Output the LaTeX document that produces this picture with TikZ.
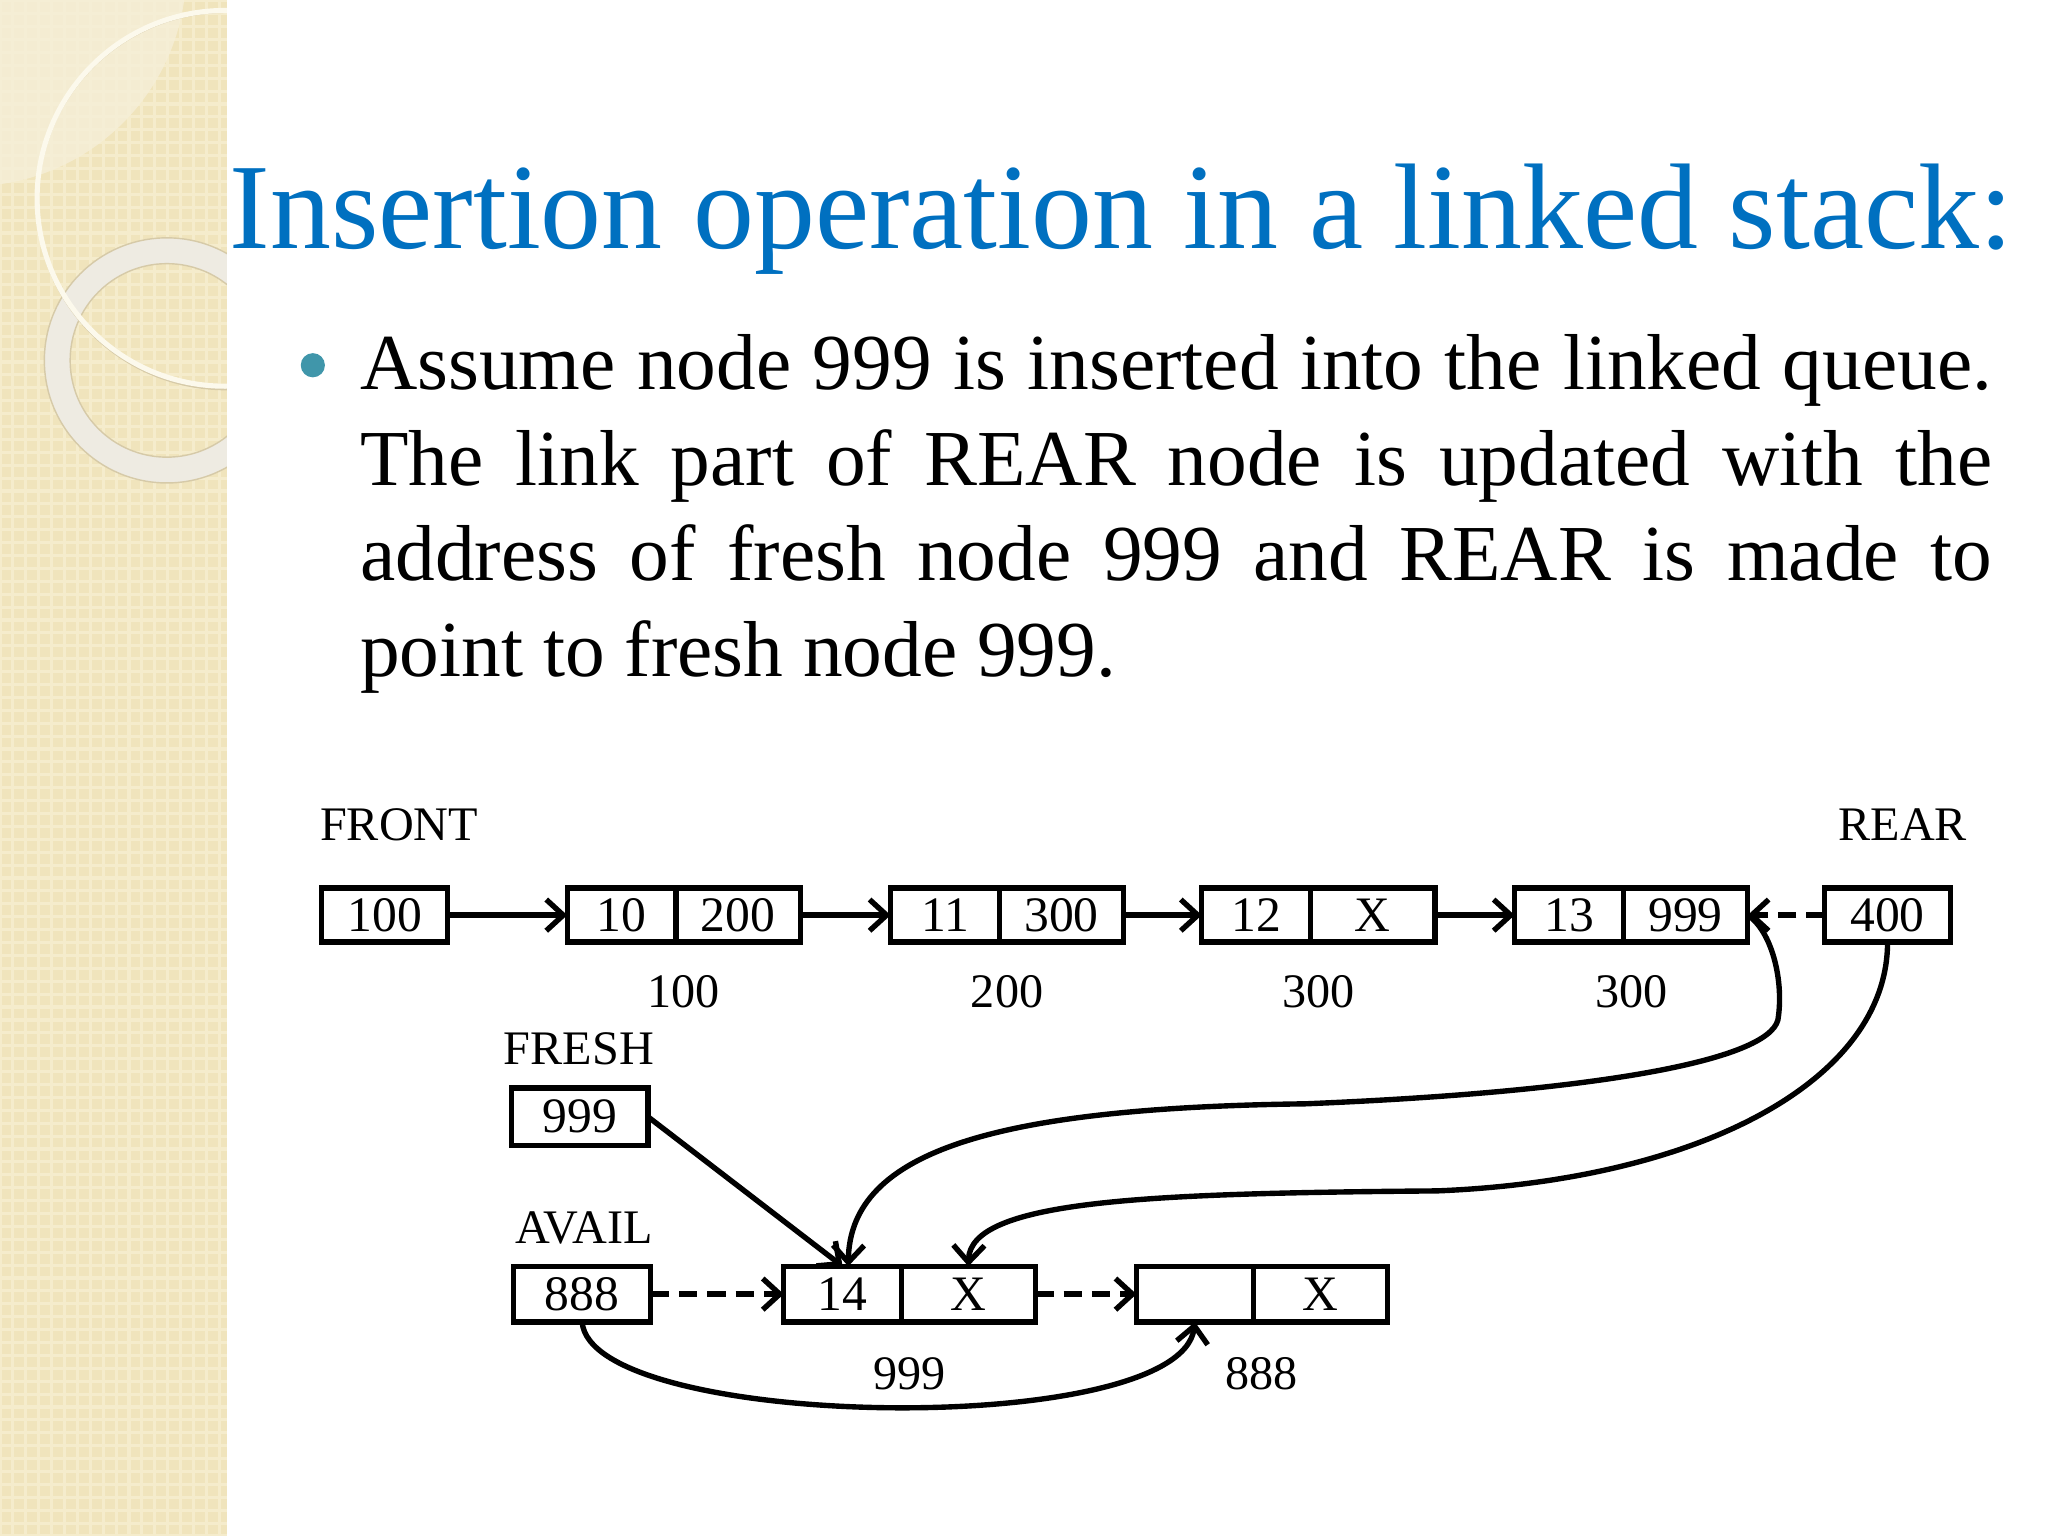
\documentclass[tikz,border=0pt]{standalone}
\usepackage{fontspec}
\setmainfont{Liberation Serif}
\usetikzlibrary{arrows.meta,positioning,calc}
\definecolor{titleblue}{RGB}{0,112,192}
\definecolor{dotteal}{RGB}{64,150,170}
\definecolor{panel}{RGB}{240,228,188}
\definecolor{panelgrid}{RGB}{245,236,204}
\definecolor{panellight}{RGB}{246,239,216}
\definecolor{ringgrey}{RGB}{238,235,226}
\definecolor{ringedge}{RGB}{214,202,168}
\definecolor{ringcream}{RGB}{252,249,236}

\begin{document}
\begin{tikzpicture}[
  cell/.style={draw, line width=1.9pt, minimum height=0.67cm, inner sep=0pt,
    outer sep=0pt, font=\fontsize{17.5}{18}\selectfont},
  info/.style={cell, minimum width=1.35cm},
  link/.style={cell, minimum width=1.54cm},
  ptr/.style={cell, minimum width=1.56cm},
  arr/.style={-{Straight Barb[length=6pt,width=11pt]}, line width=1.9pt},
  darr/.style={arr, dash pattern=on 6.5pt off 3.5pt},
  lbl/.style={font=\fontsize{17}{18}\selectfont, inner sep=0pt}
]
  \useasboundingbox (0,0) rectangle (25.4,19.05);
  \fill[white] (0,0) rectangle (25.4,19.05);

  % Side panel
  \fill[panel] (0,0) rectangle (2.815,19.05);
  \draw[panelgrid, line width=1.1pt, step=0.16] (0,0) grid (2.815,19.05);
  \begin{scope}
    \clip (0,0) rectangle (2.815,19.05);
    \fill[panellight, opacity=0.8] (-0.37,19.42) circle (2.68);
    \draw[ringgrey, line width=9pt] (2.07,14.58) circle (1.36);
    \draw[ringedge, line width=0.5pt] (2.07,14.58) circle (1.20) circle (1.52);
    \draw[ringedge, line width=1.2pt] (2.80,16.57) circle (2.34);
    \draw[ringcream, line width=1.8pt] (2.79,16.59) circle (2.33);
  \end{scope}

  % Title and text
  \node[anchor=base west, inner sep=0pt, text=titleblue,
    font=\fontsize{43}{52}\selectfont] (title) at (2.84,15.97)
    {Insertion operation in a linked stack:};
  \node[circle, fill=dotteal, minimum size=0.3cm, inner sep=0pt] (dot)
    at (3.88,14.52) {};
  \node[anchor=base west, inner sep=0pt, text width=20.24cm, align=justify,
    font=\fontsize{28}{33.75}\selectfont] (txt) at (4.46,14.22)
    {Assume node 999 is inserted into the linked queue.\linebreak
     The link part of REAR node is updated with the\linebreak
     address of fresh node 999 and REAR is made to\linebreak
     point to fresh node 999.};

  % Queue
  \node[ptr] (front) at (4.77,7.70) {100};
  \node[info] (i10) at (7.71,7.70) {10};
  \node[link, right=0pt of i10] (l10) {200};
  \node[info] (i11) at (11.72,7.70) {11};
  \node[link, right=0pt of i11] (l11) {300};
  \node[info] (i12) at (15.58,7.70) {12};
  \node[link, right=0pt of i12] (l12) {X};
  \node[info] (i13) at (19.46,7.70) {13};
  \node[link, right=0pt of i13] (l13) {999};
  \node[ptr] (rear) at (23.41,7.70) {400};

  \node[lbl, anchor=base] (frontlbl) at (4.95,8.63) {FRONT};
  \node[lbl, anchor=base] (rearlbl) at (23.60,8.63) {REAR};

  \node[lbl, below=11.6pt] (a10) at ($(i10.south west)!.5!(l10.south east)$) {100};
  \node[lbl, below=11.6pt] (a11) at ($(i11.south west)!.5!(l11.south east)$) {200};
  \node[lbl, below=11.6pt] (a12) at ($(i12.south west)!.5!(l12.south east)$) {300};
  \node[lbl, below=11.6pt] (a13) at ($(i13.south west)!.5!(l13.south east)$) {300};

  \draw[arr] (front) -- (i10);
  \draw[arr] (l10) -- (i11);
  \draw[arr] (l11) -- (i12);
  \draw[arr] (l12) -- (i13);
  \draw[darr] (rear) -- (l13);

  % Fresh node and avail list
  \node[lbl, anchor=base] (freshlbl) at (7.18,5.85) {FRESH};
  \node[ptr, minimum width=1.69cm, minimum height=0.71cm] (fresh) at (7.19,5.20) {999};
  \node[lbl, anchor=base] (availlbl) at (7.24,3.63) {AVAIL};
  \node[ptr, minimum width=1.70cm, minimum height=0.69cm] (avail) at (7.22,3.00) {888};

  \node[info, minimum width=1.46cm, minimum height=0.69cm] (i14) at (10.45,3.00) {14};
  \node[link, minimum width=1.66cm, minimum height=0.69cm, right=0pt of i14] (l14) {X};
  \node[info, minimum width=1.45cm, minimum height=0.69cm] (iE) at (14.82,3.00) {};
  \node[link, minimum width=1.66cm, minimum height=0.69cm, right=0pt of iE] (lE) {X};

  \node[lbl, below=12.3pt] (a14) at ($(i14.south west)!.5!(l14.south east)$) {999};
  \node[lbl, below=12.3pt] (aE) at ($(iE.south west)!.5!(lE.south east)$) {888};

  \draw[darr] (avail) -- (i14);
  \draw[darr] (l14) -- (iE);
  \draw[arr] (fresh.east) -- (i14.north);

  % New links
  \draw[arr] (l13.east) .. controls (21.97,7.51) and (22.13,6.89) .. (22.05,6.40)
    .. controls (21.92,5.90) and (19.84,5.51) .. (16.19,5.36)
    .. controls (12.40,5.31) and (10.54,4.79) .. ([xshift=2pt]i14.north);
  \draw[arr] (rear.south) .. controls (23.41,5.65) and (21.08,4.41) .. (17.82,4.28)
    .. controls (14.26,4.25) and (12.03,4.17) .. (l14.north);
  \draw[arr] (avail.south) .. controls (7.32,1.31) and (14.63,1.19) .. (iE.south);
\end{tikzpicture}
\end{document}
